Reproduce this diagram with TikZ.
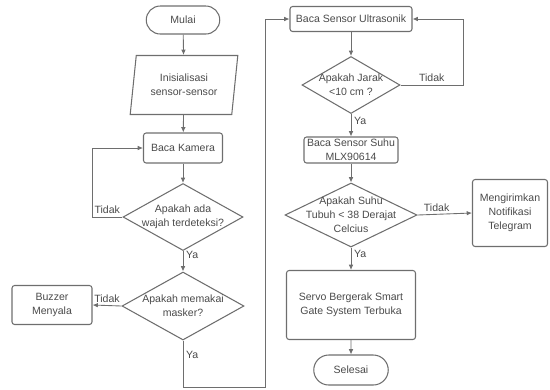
\documentclass[tikz,border=0pt]{standalone}
\usepackage{fontspec}
\setmainfont{Liberation Sans}
\usepackage{tikz}
\usetikzlibrary{arrows.meta}
\usetikzlibrary{shapes.geometric}
\usetikzlibrary{shapes.misc}
\definecolor{linegray}{HTML}{6E6E6E}
\definecolor{textgray}{HTML}{4A4A4A}
\tikzset{>=latex}
\tikzstyle{txt} = [align=center, text=textgray, font=\fontsize{6}{8}\selectfont]
\tikzstyle{box} = [txt, rectangle, draw=linegray, line width=0.6pt, rounded corners=1.5pt, inner sep=1pt]
\tikzstyle{term} = [txt, rounded rectangle, draw=linegray, line width=0.6pt, inner sep=1pt]
\tikzstyle{io} = [txt, trapezium, trapezium left angle=80, trapezium right angle=100, trapezium stretches=true, draw=linegray, line width=0.6pt, inner sep=1pt]
\tikzstyle{decision} = [diamond, draw=linegray, line width=0.6pt, inner sep=0pt]
\tikzstyle{flow} = [-{Latex[length=3pt,width=2.6pt]}, draw=linegray, line width=0.5pt]
\tikzstyle{lbl} = [txt, inner sep=1.5pt]

\begin{document}
\begin{tikzpicture}
\useasboundingbox (0,0) rectangle (11,-7.78);
% kolom kiri
\node [term, minimum width=1.54cm, minimum height=0.56cm] (mulai) at (3.66,-0.40) {Mulai};
\node [io, minimum width=2.16cm, minimum height=1.18cm] (init) at (3.68,-1.70) {Inisialisasi\\sensor-sensor};
\node [box, minimum width=1.58cm, minimum height=0.60cm] (kamera) at (3.66,-2.96) {Baca Kamera};
\node [decision, minimum width=2.40cm, minimum height=1.34cm, label={[txt]center:{Apakah ada\\wajah terdeteksi?}}] (wajah) at (3.66,-4.34) {};
\node [decision, minimum width=2.44cm, minimum height=1.36cm, label={[txt]center:{Apakah memakai\\masker?}}] (masker) at (3.66,-6.12) {};
\node [box, minimum width=1.60cm, minimum height=0.78cm] (buzzer) at (1.04,-6.10) {Buzzer\\Menyala};
% kolom kanan
\node [box, minimum width=2.44cm, minimum height=0.50cm] (ultra) at (7.02,-0.38) {Baca Sensor Ultrasonik};
\node [decision, minimum width=1.96cm, minimum height=1.14cm, label={[txt]center:{Apakah Jarak\\<10 cm ?}}] (jarak) at (7.02,-1.70) {};
\node [box, minimum width=1.88cm, minimum height=0.52cm] (bacasuhu) at (7.02,-3.00) {Baca Sensor Suhu\\MLX90614};
\node [decision, minimum width=2.64cm, minimum height=1.28cm, label={[txt]center:{Apakah Suhu\\Tubuh < 38 Derajat\\Celcius}}] (suhu) at (7.02,-4.30) {};
\node [box, minimum width=1.50cm, minimum height=1.34cm] (telegram) at (10.20,-4.26) {Mengirimkan\\Notifikasi\\Telegram};
\node [box, minimum width=2.58cm, minimum height=1.38cm] (servo) at (7.02,-6.10) {Servo Bergerak Smart\\Gate System Terbuka};
\node [term, minimum width=1.56cm, minimum height=0.60cm] (selesai) at (7.02,-7.40) {Selesai};
% titik belok
\coordinate (kiriA) at (1.84,-4.34);
\coordinate (bawahA) at (3.66,-7.74);
\coordinate (tengahA) at (5.30,-7.74);
\coordinate (kananA) at (9.26,-1.70);
% panah
\draw [flow] (mulai) to (init);
\draw [flow] (init) to (kamera);
\draw [flow] (kamera) to (wajah);
\draw [flow] (wajah.west) to node[lbl, above] {Tidak} (kiriA) |- (kamera.west);
\draw [flow] (wajah.south) to node[lbl, right, pos=0.2] {Ya} (masker.north);
\draw [flow] (masker.west) to node[lbl, above] {Tidak} (buzzer.east);
\draw [flow] (masker.south) to node[lbl, right, pos=0.3] {Ya} (bawahA) -- (tengahA) |- (ultra.west);
\draw [flow] (ultra) to (jarak);
\draw [flow] (jarak.east) to node[lbl, above] {Tidak} (kananA) |- (ultra.east);
\draw [flow] (jarak.south) to node[lbl, right, pos=0.3] {Ya} (bacasuhu.north);
\draw [flow] (bacasuhu) to (suhu);
\draw [flow] (suhu.east) to node[lbl, above, pos=0.35] {Tidak} (telegram.west);
\draw [flow] (suhu.south) to node[lbl, right, pos=0.3] {Ya} (servo.north);
\draw [flow] (servo) to (selesai);
\end{tikzpicture}
\end{document}
